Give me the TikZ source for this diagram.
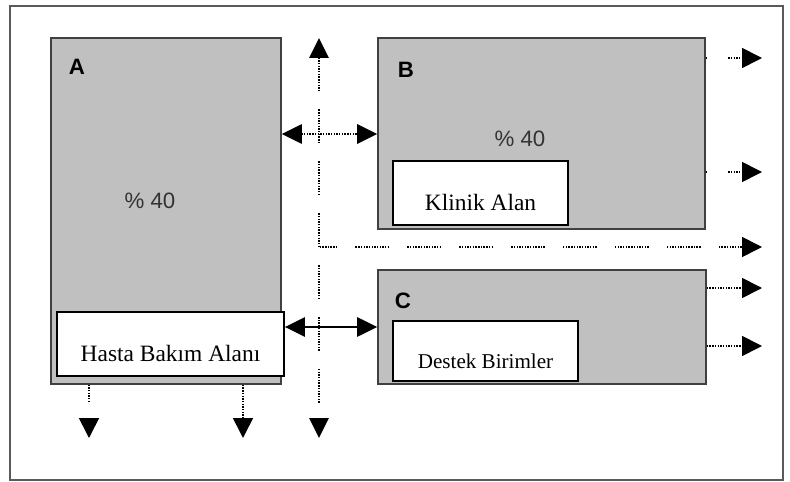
\documentclass[tikz,border=0pt]{standalone}
\usepackage{fontspec}
\setmainfont{Liberation Serif}
\setsansfont{Liberation Sans}
\usetikzlibrary{arrows.meta}
\definecolor{zonefill}{RGB}{192,192,192}
\definecolor{zoneline}{RGB}{64,64,64}
\definecolor{framegray}{RGB}{90,90,90}
\tikzset{
  zone/.style={draw=zoneline, line width=1.3pt, fill=zonefill, inner sep=0pt},
  tagbox/.style={draw, line width=1.6pt, fill=white, inner sep=0pt, text height=1.47cm, text depth=0.45cm, font=\fontsize{20}{24}\selectfont},
  zoneletter/.style={font=\sffamily\bfseries\fontsize{19}{22}\selectfont},
  share/.style={font=\sffamily\fontsize{19}{22}\selectfont, text=black!80},
  tip/.style={-{Triangle[length=6mm, width=6mm]}},
  twotip/.style={{Triangle[length=6mm, width=5.8mm]}-{Triangle[length=6mm, width=5.8mm]}},
  dots/.style={line width=1.4pt, dash pattern=on 1.2pt off 1.1pt},
  gapdot/.style={line width=1.4pt, dash pattern=on 1.2pt off 1.1pt on 1.2pt off 1.1pt on 1.2pt off 1.1pt on 1.2pt off 1.1pt on 1.2pt off 1.1pt on 1.2pt off 1.1pt on 1.2pt off 1.1pt on 1.2pt off 1.1pt on 1.2pt off 1.1pt on 1.2pt off 1.1pt on 1.2pt off 1.1pt on 1.2pt off 1.1pt on 1.2pt off 15.5pt},
  shortdot/.style={gapdot, dash phase=14pt},
  splitdot/.style={line width=1.4pt, dash pattern=on 1.2pt off 18pt on 1.2pt off 1.1pt on 1.2pt off 1.1pt on 1.2pt off 1.1pt on 1.2pt off 1.1pt on 1.2pt off 1.1pt on 1.2pt off 12pt}
}
\begin{document}
\begin{tikzpicture}[x=0.03cm, y=-0.03cm]
  \useasboundingbox (0,0) rectangle (790,482);
  \draw[framegray, line width=1.5pt] (10,6) rectangle (783,480);

  % the three areas
  \node[zone, minimum width=6.9cm, minimum height=10.38cm] (A) at (166,211) {};
  \node[zone, minimum width=9.81cm, minimum height=5.73cm] (B) at (541.5,133.5) {};
  \node[zone, minimum width=9.84cm, minimum height=3.42cm] (C) at (542,327) {};
  \node[zoneletter] (la) at (77,67) {A};
  \node[zoneletter] (lb) at (406,70) {B};
  \node[zoneletter] (lc) at (403,301) {C};
  \node[share] (pa) at (150,201) {\% 40};
  \node[share] (pb) at (520,139) {\% 40};

  % names of the areas
  \node[tagbox, minimum width=6.81cm] (hasta) at (170.5,344) {Hasta Bakım Alanı};
  \node[tagbox, minimum width=5.25cm] (klinik) at (480.5,193) {Klinik Alan};
  \node[tagbox, minimum width=5.55cm, text height=1.41cm, text depth=0.39cm, font=\fontsize{18}{22}\selectfont] (destek) at (485.5,351) {Destek Birimler};

  % corridors
  \coordinate (vtop) at (319,38);
  \coordinate (vbot) at (319,438);
  \coordinate (hend) at (762,247);
  \coordinate (ab) at (319,134);
  \draw[gapdot, twotip] (vtop) -- (vbot);
  \draw[gapdot, dash phase=13.2pt, tip] (vtop |- hend) -- (hend);
  \draw[dots, twotip] (ab -| A.east) -- (ab -| B.west);
  \draw[line width=1.3pt, twotip] (C.west -| hasta.east) -- (C.west);

  % ways out
  \foreach \y [count=\i] in {58,172} {
    \coordinate (bout\i) at (762,\y);
    \draw[splitdot, tip] (bout\i -| B.east) -- (bout\i);
  }
  \foreach \y [count=\i] in {288,346} {
    \coordinate (cout\i) at (762,\y);
    \draw[dots, tip] (cout\i -| C.east) -- (cout\i);
  }
  \foreach \x/\s [count=\i] in {89/shortdot, 243/dots} {
    \coordinate (aout\i) at (\x,438);
    \draw[\s, tip] (aout\i |- A.south) -- (aout\i);
  }
\end{tikzpicture}
\end{document}
